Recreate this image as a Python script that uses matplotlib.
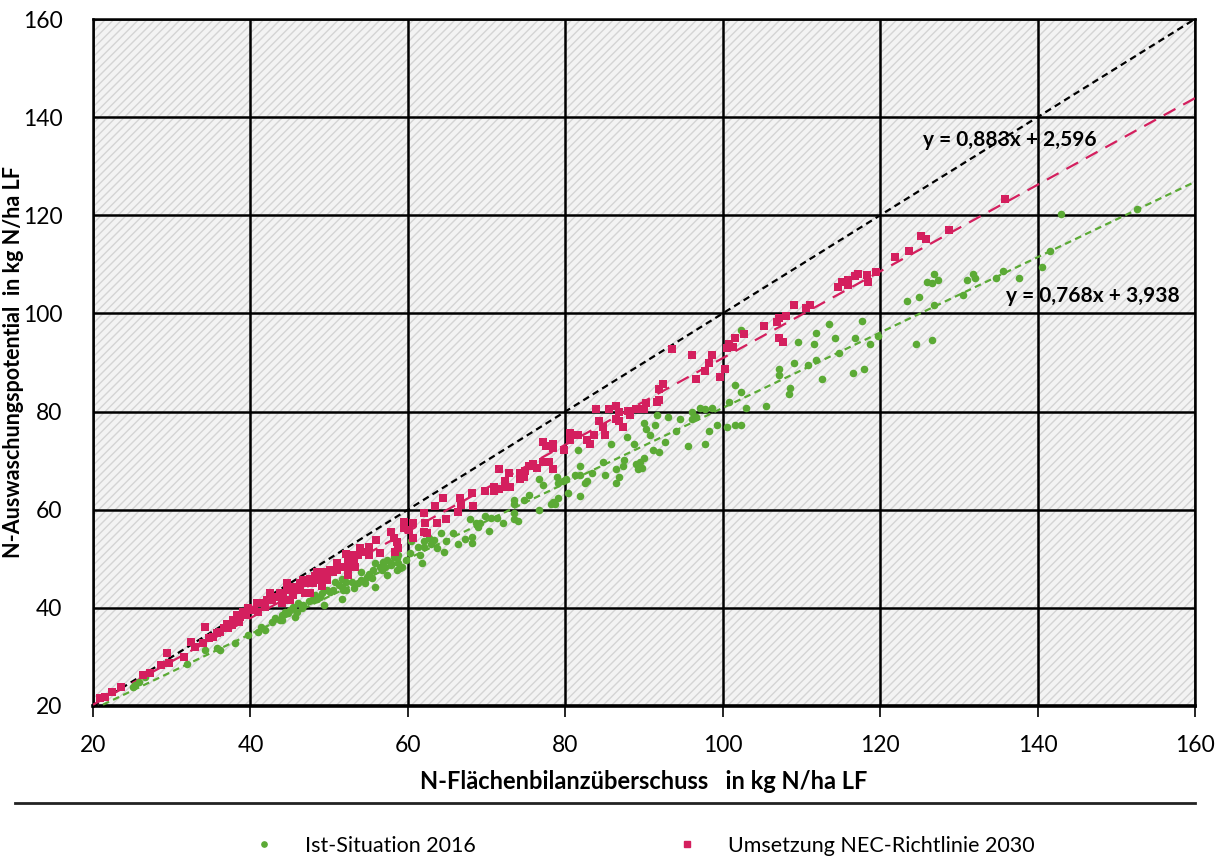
import matplotlib
matplotlib.use("Agg")
import matplotlib.pyplot as plt
from matplotlib.patches import Rectangle
from matplotlib.lines import Line2D
import numpy as np

FONT = ['Liberation Sans Narrow', 'Lato', 'DejaVu Sans']
plt.rcParams['font.family'] = FONT
plt.rcParams['hatch.linewidth'] = 1.0

# ---------------- data ----------------
green_pts = [
    (123.4,102.5),(124.9,103.3),(126.0,106.5),(126.6,106.1),(126.8,108.0),(127.3,106.8),(126.8,101.7),
    (124.6,93.8),(126.6,94.6),(130.5,103.7),(131.0,106.8),(131.8,108.0),(132.0,107.2),(134.7,107.2),
    (135.6,108.7),(137.6,107.2),(140.6,109.5),(141.6,112.8),(143.0,120.2),(152.6,121.3),
    (102.3,96.6),(101.5,85.5),(102.3,84.0),(100.8,82.0),(103.0,80.8),(100.5,76.9),(101.5,77.3),
    (102.3,77.3),(105.5,81.2),(107.2,88.7),(107.2,87.5),(108.6,84.8),(108.4,83.6),(109.1,89.9),
    (109.6,94.2),(110.8,89.5),(111.6,93.8),(111.9,96.1),(111.9,90.6),(112.6,86.7),(113.5,97.8),
    (114.3,95.0),(114.8,91.9),(116.5,87.9),(116.8,95.0),(117.7,98.5),(118.0,88.7),(118.7,93.8),
    (119.7,95.4),
    (99.3,77.3),(98.3,76.1),(97.8,73.4),(98.6,80.8),(97.8,80.5),(97.1,80.8),(96.1,80.0),(96.6,78.8),
    (96.1,78.5),(95.6,73.0),(94.6,78.5),(94.1,76.1),(93.0,78.8),(91.7,79.2),(91.4,77.3),(92.7,73.8),
    (91.9,71.8),(91.2,72.2),(90.0,77.7),(90.2,76.5),(90.7,75.3),(90.0,70.6),(89.5,69.7),(89.0,69.4),
    (89.8,68.6),(89.2,68.2),(88.7,73.4),(87.8,74.9),(87.5,70.2),(87.3,69.0),(86.5,68.2),(86.8,66.7),
    (86.5,65.5),(85.8,73.3),(84.8,69.7),(85.0,67.1),(83.4,67.5),(82.8,65.9),(82.5,65.5),(81.9,67.1),
    (81.9,69.0),(81.6,72.2),(81.9,62.8),(81.2,67.1),(80.4,63.5),(80.1,66.2),(79.7,65.9),(79.1,65.5),
    (79.1,62.4),(78.9,66.7),(78.4,61.6),(78.2,61.2),(78.7,61.2),(77.2,65.1),(76.7,66.3),(76.7,60.0),
    (75.4,63.1),(74.7,62.0),(73.5,62.0),(73.5,61.2),(73.5,59.3),(73.5,58.1),(74.0,57.6),(72.1,57.2),
    (71.3,58.4),(70.6,58.4),(69.8,58.8),(70.3,55.7),(69.2,57.2),
    (67.9,58.1),(68.7,57.2),(68.9,56.5),(68.1,54.4),(68.2,53.3),(67.2,54.0),(66.4,53.0),(65.7,55.2),
    (64.8,53.6),(64.6,51.3),(64.2,55.3),(63.7,52.2),(63.3,53.8),(63.0,53.1),(62.7,54.2),(62.0,53.7),
    (62.0,52.5),(61.3,52.5),(61.5,50.8),(61.8,49.2),(60.4,53.7),(60.3,51.1),(59.8,49.8),(58.7,50.8),
    (58.2,50.3),(58.8,49.2),(59.2,48.3),(58.6,47.7),(57.3,49.8),(57.9,48.7),(56.9,49.4),(56.5,48.3),
    (55.8,49.1),(55.6,47.7),(57.3,46.7),(55.0,47.0),(55.4,46.0),(54.1,47.3),(54.1,45.7),(54.6,45.0),
    (55.8,44.3),(53.7,45.0),(52.9,45.3),(53.1,44.0),(52.2,45.3),(52.2,43.6),(51.6,45.8),(51.6,44.3),
    (51.6,41.9),(51.2,44.7),(50.7,45.3),(50.5,43.6),(50.1,43.3),(49.7,43.6),(49.1,43.0),(49.3,40.6),
    (48.8,42.3),(48.4,41.9),(48.2,42.6),(47.8,41.6),(47.4,41.3),(46.7,40.6),(46.5,39.9),(46.1,40.9),
    (45.7,38.2),(45.0,39.6),(44.4,39.2),(44.0,37.5),
    (26.6,26.0),(25.8,24.8),(25.3,24.3),(25.1,23.9),(31.9,28.6),(34.2,31.5),(35.7,31.8),(36.1,31.4),
    (38.0,32.8),(39.7,34.5),(41.0,35.1),(41.9,35.5),(41.4,36.2),(42.7,37.2),(43.1,37.9),(43.8,37.5),
    (44.0,38.5),(44.8,38.9),(45.4,40.2),(45.9,39.2),(51.8,43.6),(54.8,46.3),(56.7,47.7),(57.1,48.4),
    (57.9,49.1),(58.6,50.1),(59.0,48.1),
]

pink_pts = [
    (123.7,112.7),(125.2,115.8),(125.8,115.1),(128.8,117.1),(135.9,123.3),
    (99.7,87.1),(100.3,88.7),(100.5,92.9),(100.8,93.8),(101.3,93.1),(101.5,95.0),(102.7,95.8),
    (105.2,97.4),(106.9,98.2),(107.2,99.0),(108.1,99.4),(107.2,95.0),(107.7,94.2),(109.1,101.7),
    (110.6,101.2),(111.1,101.7),(114.6,105.3),(115.2,106.4),(115.9,106.8),(115.9,105.7),(116.8,107.7),
    (117.2,108.0),(118.3,107.9),(118.5,106.5),(119.5,108.4),(121.9,111.5),
    (93.6,92.7),(96.1,91.5),(98.6,91.5),(98.3,89.8),(97.8,88.3),(96.6,86.7),(92.4,85.6),(91.9,84.7),
    (91.9,82.4),(91.7,82.0),(90.2,81.7),(90.0,80.5),(89.0,80.5),(88.2,79.3),(88.0,80.2),(86.5,81.2),
    (86.8,80.0),(86.5,78.5),(86.8,78.1),(87.3,76.9),(85.6,80.5),(83.9,80.5),(84.3,78.1),(84.8,76.9),
    (85.0,75.3),(83.6,75.3),(82.8,74.2),(83.1,73.3),(81.6,75.3),(80.6,75.7),(80.6,74.2),(79.9,72.2),
    (78.4,73.3),(78.4,72.5),(77.5,73.0),(77.2,73.7),(77.9,69.7),(78.4,68.2),(77.2,69.7),(76.4,68.6),
    (75.9,69.4),(75.4,69.0),(74.9,67.8),(74.2,67.4),(74.2,66.3),(74.7,66.7),(71.6,68.2),(72.8,67.4),
    (72.3,65.9),(73.0,64.7),(72.6,64.7),(71.0,64.7),(71.6,64.3),(71.0,63.9),(69.8,63.9),
    (68.2,63.4),(66.6,62.3),(66.8,61.0),(68.3,60.8),(66.4,59.6),(64.5,62.3),(63.4,60.8),(62.0,59.3),
    (64.9,58.1),(63.7,57.2),(62.2,57.2),(62.0,55.5),(62.4,55.2),(60.7,57.2),(59.5,57.5),(59.5,56.2),
    (60.1,55.9),(60.7,54.2),(57.9,55.5),(58.2,54.2),(58.6,53.5),(58.8,52.2),(58.4,51.4),(56.0,53.8),
    (56.5,51.2),(55.0,52.5),(54.6,51.4),(55.0,50.8),(53.9,52.2),(53.7,50.8),(52.9,50.8),(53.1,49.8),
    (52.2,51.0),(52.4,49.8),(52.7,48.3),(52.0,48.3),(51.0,49.1),(51.0,47.7),(50.5,47.3),(50.1,47.8),
    (49.7,47.0),(49.3,47.3),(48.8,47.0),(48.4,47.3),(48.2,46.4),(48.8,45.7),(49.7,45.7),(49.1,44.5),
    (48.0,45.0),(47.6,45.8),(47.1,45.0),(46.7,45.7),(46.3,44.3),(46.9,43.0),(45.9,43.6),(45.4,43.6),
    (45.4,42.6),(44.6,43.6),(44.2,42.6),(45.0,41.6),(44.0,40.9),(52.4,46.7),(53.3,48.3),
    (47.1,45.7),(46.3,45.0),(45.4,44.3),(44.6,45.0),(47.6,43.0),(43.8,43.0),(43.3,42.3),(42.5,43.0),
    (42.7,41.6),(42.1,41.6),(41.4,40.9),(41.9,40.2),(40.8,40.9),(41.0,39.2),(40.4,39.6),(39.7,39.9),
    (39.5,38.5),(39.1,39.2),(38.7,38.2),(38.3,38.5),(38.5,37.2),(37.8,37.5),(37.6,36.5),(37.0,36.8),
    (37.2,35.8),(36.6,35.8),(36.1,35.1),(35.7,34.8),(35.3,34.1),(34.7,33.8),(34.2,36.0),(34.0,32.8),
    (32.5,33.1),(33.0,32.1),(31.5,30.0),(29.4,30.7),(29.6,28.7),(28.7,28.4),(27.2,26.7),(26.4,26.3),
    (23.6,23.9),(22.4,22.9),(21.5,21.9),(20.9,21.6),
]

green_x = [p[0] for p in green_pts]
green_y = [p[1] for p in green_pts]
pink_x = [p[0] for p in pink_pts]
pink_y = [p[1] for p in pink_pts]

# trend lines (from the chart's equations)
pink_slope, pink_intercept = 0.883, 2.596
green_slope, green_intercept = 0.768, 3.938
line_x = [20, 160]

series_names = ["Ist-Situation 2016", "Umsetzung NEC-Richtlinie 2030"]
pink_eq = "y = 0,883x + 2,596"
green_eq = "y = 0,768x + 3,938"
ticks = [20, 40, 60, 80, 100, 120, 140, 160]

GREEN = "#5BAA35"
PINK = "#D41F5E"

# ---------------- figure ----------------
fig = plt.figure(figsize=(12.22, 8.58), dpi=100)
ax = fig.add_axes([93/1222, 1-706/858, (1195-93)/1222, (706-19)/858])
ax.set_xlim(20, 160)
ax.set_ylim(20, 160)

# hatched background
ax.set_facecolor("white")
bg = Rectangle((0, 0), 1, 1, transform=ax.transAxes, facecolor="#f3f3f3",
               edgecolor="#d4d4d4", hatch="////", linewidth=0, zorder=0)
ax.add_patch(bg)

ax.set_xticks(ticks)
ax.set_yticks(ticks)
ax.grid(True, color="black", linewidth=1.8, zorder=1)
ax.set_axisbelow(True)
for s in ax.spines.values():
    s.set_color("black")
    s.set_linewidth(1.8)
ax.spines['bottom'].set_linewidth(2.6)
ax.tick_params(axis='x', direction='out', length=8, width=1.2, pad=13, labelsize=16.5)
ax.tick_params(axis='y', length=0, pad=22, labelsize=16.5)

# 1:1 line
ax.plot(line_x, line_x, color="black", linestyle=(0, (3, 2)), linewidth=1.6, zorder=3)
# trend lines
ax.plot(line_x, [pink_slope * v + pink_intercept for v in line_x], color=PINK,
        linestyle=(0, (6, 4)), linewidth=1.6, zorder=3)
ax.plot(line_x, [green_slope * v + green_intercept for v in line_x], color=GREEN,
        linestyle=(0, (3, 2)), linewidth=1.6, zorder=3)

ax.scatter(green_x, green_y, s=30, marker='o', color=GREEN, linewidths=0, zorder=4,
           label=series_names[0])
ax.scatter(pink_x, pink_y, s=30, marker='s', color=PINK, linewidths=0, zorder=4,
           label=series_names[1])

ax.text(125.4, 135.3, pink_eq, fontsize=15, fontweight='bold', ha='left', va='center', zorder=5)
ax.text(136.0, 103.6, green_eq, fontsize=15, fontweight='bold', ha='left', va='center', zorder=5)

ax.set_xlabel("N-Flächenbilanzüberschuss   in kg N/ha LF", fontsize=17, fontweight='bold',
              labelpad=10)
ax.set_ylabel("N-Auswaschungspotential  in kg N/ha LF", fontsize=15.5, fontweight='bold',
              labelpad=10)
ax.yaxis.set_label_coords(-(93-24)/1102, 0.5)

# separator line
fig.add_artist(Line2D([15/1222, 1195/1222], [1-803/858, 1-803/858], color="#222222",
                      linewidth=2.0, transform=fig.transFigure))

handles = [Line2D([], [], linestyle='none', marker='o', color=GREEN, markersize=3.8),
           Line2D([], [], linestyle='none', marker='s', color=PINK, markersize=4.0)]
fig.legend(handles, series_names, loc='center', bbox_to_anchor=(0.527, 1-846/858), ncol=2,
           frameon=False, fontsize=15.5, handlelength=1.0, handletextpad=1.4,
           columnspacing=9.35)

fig.savefig("out.png", dpi=100)
